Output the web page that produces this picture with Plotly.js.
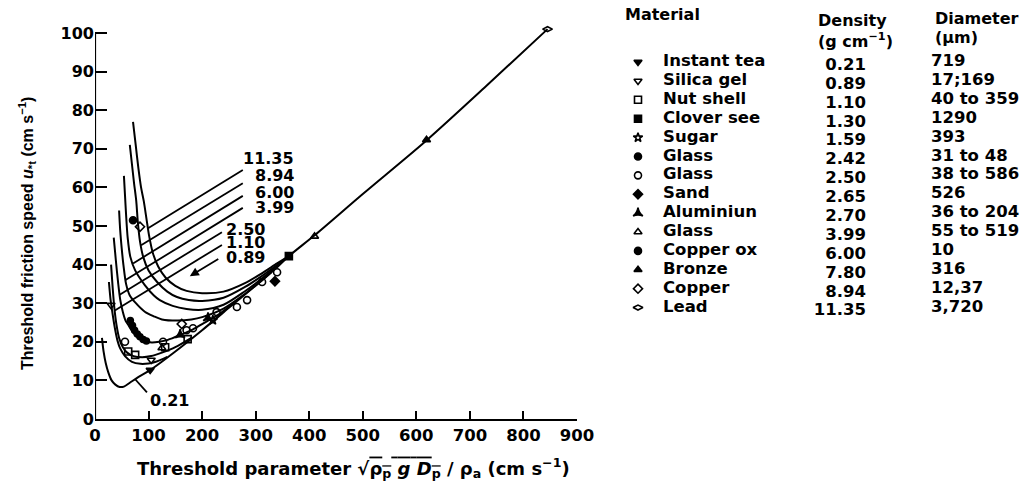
<!DOCTYPE html>
<html><head><meta charset="utf-8">
<script src="https://cdn.plot.ly/plotly-3.0.1.min.js"></script>
<style>html,body{margin:0;padding:0;background:#fff}#chart{width:1036px;height:482px}</style>
</head><body><div id="chart"></div>
<script>
// ---- axis ticks ----
const xTicks = [0,100,200,300,400,500,600,700,800,900];
const yTicks = [0,10,20,30,40,50,60,70,80,90,100];

// ---- density curves (threshold parameter, threshold friction speed) ----
const c021x = [13,16,20,25,31,38,46,54,65,80,100,150,200,250,300,340,362,410,500,620,730,845];
const c021y = [21,17.5,14.5,12,10,8.9,8.3,8.4,9.4,10.8,12.4,17.5,23,28.8,34.6,39.3,42.2,47.6,58.3,72.3,86.2,101];
const c089x = [26,29,32,37,42,47,56,69,85,100,115,135];
const c089y = [35.5,31,28,23.6,20.3,18.3,16.3,14.8,14.3,14.4,14.9,16.1];
const c110x = [30,33,36,40,45,52,60,72,88,105,125,150,180];
const c110y = [40,34,29,24.5,21,18.6,17.2,16.3,16,16.3,17.2,18.6,21];
const c250x = [35,39,43,47,52,57,62,70,80,93,106,120,136,160,180,200,230,260];
const c250y = [47,41,35.5,31,27.7,25.5,24.4,22.6,21.2,20.2,19.8,20,20.5,21.8,23,24.6,27,30.1];
const c399x = [45,47,50,53,58,65,75,93,110,125,155,180,200,240,280,310,330];
const c399y = [54,49,44,40,35,32,30.2,27.8,26.6,25.8,25.5,25.8,26.4,28.6,32.4,35.7,38.1];
const c600x = [54,56,58,61,66,75,93,110,121,145,171,200,240,280,310,340,362];
const c600y = [63,58,53,47,42,38.5,34.7,32,30.8,29.3,28.5,28.3,29.6,33.1,36.2,39.6,42.2];
const c894x = [65,69,73,77,80,84,90,100,116,135,153,175,200,240,280,310,340,362];
const c894y = [71,66,61,56.5,51,46,42,38.5,35.5,33,31.6,30.8,30.6,31.4,34.2,36.9,39.9,42.2];
const c1135x = [71,76,81,86,91,96,101,108,118,132,150,171,200,240,280,310,340,362];
const c1135y = [77,71,65,60,56.5,52,47.5,43,39.5,36.6,34.5,33.2,32.6,33,35.2,37.6,40.3,42.2];

// ---- curve labels and their leader lines (data coordinates) ----
const curveLabels = ['11.35','8.94','6.00','3.99','2.50','1.10','0.89','0.21'];
const labelX      = [375,375,375,375,321,321,321,99];
const labelY      = [67.5,63,58.7,54.8,49.2,45.7,41.8,4.7];
const leaderX0    = [99,86,71,57,46,37,177,75];
const leaderY0    = [49.4,45,40.3,36,32.2,28.1,37,10.3];
const leaderX1    = [276,276,276,276,237,237,233,97];
const leaderY1    = [64.5,61.1,57.8,54.7,48.4,45.1,41.7,6.9];

// ---- materials table ----
const materials = ['Instant tea','Silica gel','Nut shell','Clover see','Sugar','Glass','Glass','Sand','Aluminiun','Glass','Copper ox','Bronze','Copper','Lead'];
const densities = ['0.21','0.89','1.10','1.30','1.59','2.42','2.50','2.65','2.70','3.99','6.00','7.80','8.94','11.35'];
const diameters = ['719','17;169','40 to 359','1290','393','31 to 48','38 to 586','526','36 to 204','55 to 519','10','316','12,37','3,720'];
const symbols   = ['triangle-down','triangle-down-open','square-open','square','star-open','circle','circle-open','diamond','star-triangle-up','triangle-up-open','circle','triangle-up','diamond-open','diamond-wide-open'];

// ---- measured points per material (x, y) ----
const ptsX = [
  [103],            // instant tea
  [30,105],         // silica gel
  [62,75,131,173],  // nut shell
  [362],            // clover seed
  [220],            // sugar
  [66,70,74,79,84,90,96], // glass 2.42
  [56,127,171,183,227,265,284,312,340], // glass 2.50
  [336],            // sand
  [159,211],        // aluminium
  [125,410],        // glass 3.99
  [71],             // copper oxide
  [619],            // bronze
  [84,162],         // copper
  [845]             // lead
];
const ptsY = [
  [12.7],
  [29.5,15.3],
  [17.5,16.6,18.6,20.7],
  [42.2],
  [25.6],
  [25.5,24.2,23,22,21.3,20.6,20.2],
  [20,20,23,23.5,27.7,29,30.8,35.5,38],
  [35.7],
  [21.8,26.2],
  [18.4,47.3],
  [51.5],
  [72.3],
  [49.8,24.6],
  [101]
];

const YTICK_FONT = {family:'DejaVu Sans', size:16, color:'#000', weight:'bold'};
const XTICK_FONT = {family:'DejaVu Sans', size:16.5, color:'#000', weight:'bold'};
const LABEL_FONT = {family:'DejaVu Sans', size:16, color:'#000', weight:'bold'};
const traces = [];
const curves = [[c021x,c021y],[c089x,c089y],[c110x,c110y],[c250x,c250y],[c399x,c399y],[c600x,c600y],[c894x,c894y],[c1135x,c1135y]];
curves.forEach(c => traces.push({x:c[0], y:c[1], mode:'lines', type:'scatter',
  line:{color:'#000', width:2, shape:'spline', smoothing:0.8}, hoverinfo:'skip', cliponaxis:false}));

// leader lines (except 0.89 which is drawn with an arrow)
curveLabels.forEach((lab,i) => {
  if (lab === '0.89') return;
  traces.push({x:[leaderX0[i],leaderX1[i]], y:[leaderY0[i],leaderY1[i]], mode:'lines', type:'scatter',
    line:{color:'#000', width:1.8}, hoverinfo:'skip', cliponaxis:false});
});

// data points
materials.forEach((m,i) => {
  traces.push({x:ptsX[i], y:ptsY[i], mode:'markers', type:'scatter', cliponaxis:false,
    marker:{symbol:symbols[i], size: (i===5 ? 6 : 7), color:'#000', line:{color:'#000', width:1.6}}, hoverinfo:'skip'});
});

// table on secondary invisible axes (x2 in pixel-like units, y2 = row index)
const rowIdx = materials.map((_,i)=>i);
const TABLE_FONT = {family:'DejaVu Sans', size:16.5, color:'#000', weight:'bold'};
traces.push({x:rowIdx.map(()=>638), y:rowIdx, xaxis:'x2', yaxis:'y2', mode:'markers', type:'scatter',
  marker:{symbol:symbols, size:7, color:'#000', line:{color:'#000', width:1.6}}, hoverinfo:'skip', cliponaxis:false});
traces.push({x:rowIdx.map(()=>663), y:rowIdx, xaxis:'x2', yaxis:'y2', mode:'text', type:'scatter',
  text:materials, textposition:'middle right', textfont:TABLE_FONT, hoverinfo:'skip', cliponaxis:false});
traces.push({x:rowIdx.map(()=>866), y:rowIdx.map(v=>v+0.2), xaxis:'x2', yaxis:'y2', mode:'text', type:'scatter',
  text:densities, textposition:'middle left', textfont:TABLE_FONT, hoverinfo:'skip', cliponaxis:false});
traces.push({x:rowIdx.map(()=>931), y:rowIdx, xaxis:'x2', yaxis:'y2', mode:'text', type:'scatter',
  text:diameters, textposition:'middle right', textfont:TABLE_FONT, hoverinfo:'skip', cliponaxis:false});

const annotations = [];
curveLabels.forEach((lab,i) => {
  annotations.push({x:labelX[i], y:labelY[i], xref:'x', yref:'y', text:lab, showarrow:false,
    xanchor: lab === '0.21' ? 'left' : 'right', yanchor:'middle', font:LABEL_FONT});
});
// 0.89 leader with arrow
const i089 = curveLabels.indexOf('0.89');
annotations.push({x:leaderX0[i089], y:leaderY0[i089], ax:leaderX1[i089], ay:leaderY1[i089],
  xref:'x', yref:'y', axref:'x', ayref:'y', text:'', showarrow:true, arrowhead:2, arrowsize:1, arrowwidth:1.8, arrowcolor:'#000'});
// table headers
const HDR_FONT = {family:'DejaVu Sans', size:16, color:'#000', weight:'bold'};
const hdr = (x,y,t,anchor) => annotations.push({x:x, y:y, xref:'x2', yref:'y2', text:t, showarrow:false,
  xanchor:anchor||'left', yanchor:'middle', font:HDR_FONT});
hdr(623,-2.5,'Material');
hdr(816,-2.2,'Density');
hdr(816,-1.15,'(g cm<sup>−1</sup>)');
hdr(933,-2.3,'Diameter');
hdr(933,-1.3,'(μm)');
// x-axis title placed under the axis
annotations.push({x:483, y:-0.118, xref:'x', yref:'paper', showarrow:false, xanchor:'center', yanchor:'middle',
  text:'Threshold parameter √<span style="text-decoration:overline">ρ<sub>p</sub> <i>g</i> <i>D</i><sub>p</sub></span> / ρ<sub>a</sub> (cm s<sup>−1</sup>)',
  font:{family:'DejaVu Sans', size:18, color:'#000', weight:'bold'}});
// y-axis title
annotations.push({x:-0.0723, y:0.449, xref:'paper', yref:'paper', showarrow:false, textangle:-90,
  xanchor:'center', yanchor:'middle',
  text:'Threshold friction speed <i>u</i><sub>*t</sub> (cm s<sup>−1</sup>)',
  font:{family:'Liberation Sans Narrow, Liberation Sans, Arial', size:16, color:'#000', weight:'bold'}});

const shapes = [
  {type:'line', xref:'x', yref:'y', x0:0, x1:0, y0:0, y1:100, line:{color:'#000', width:2.2}}
];

const layout = {
  width:1036, height:482,
  margin:{l:95, r:0, t:5, b:63},
  paper_bgcolor:'#fff', plot_bgcolor:'rgba(0,0,0,0)',
  showlegend:false,
  xaxis:{domain:[0, 482/941], range:[0,900], tickvals:xTicks, ticktext:xTicks.map(String),
    ticks:'inside', ticklen:8, tickwidth:2, tickcolor:'#000', showline:true, linewidth:2.2, linecolor:'#000',
    showgrid:false, zeroline:false, tickfont:XTICK_FONT},
  yaxis:{domain:[0, 102*3.86/414], range:[0,102], tickvals:yTicks, ticktext:yTicks.map(String),
    ticks:'inside', ticklen:12, tickwidth:2, tickcolor:'#000', showline:false,
    showgrid:false, zeroline:false, tickfont:YTICK_FONT},
  xaxis2:{domain:[505/941, 1], range:[600,1036], visible:false, fixedrange:true, anchor:'y2'},
  yaxis2:{domain:[0,1], range:[18.9,-3.02], visible:false, fixedrange:true, anchor:'x2'},
  annotations:annotations,
  shapes:shapes
};
Plotly.newPlot('chart', traces, layout, {staticPlot:true, displayModeBar:false});
</script></body></html>
